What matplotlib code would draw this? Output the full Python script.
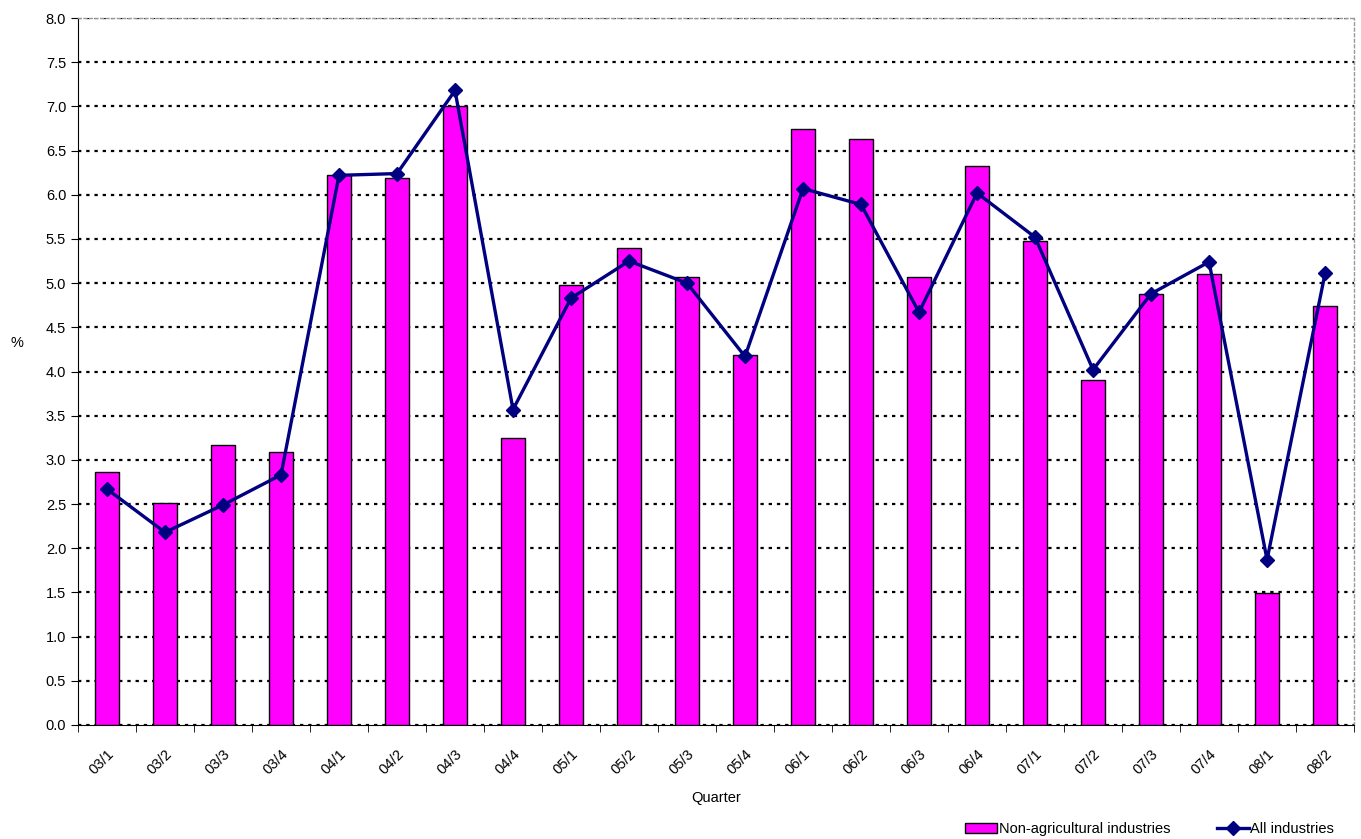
import matplotlib.pyplot as plt
import numpy as np

plt.rcParams['font.family'] = ['Liberation Sans', 'DejaVu Sans']

quarters = ['03/1', '03/2', '03/3', '03/4', '04/1', '04/2', '04/3', '04/4',
            '05/1', '05/2', '05/3', '05/4', '06/1', '06/2', '06/3', '06/4',
            '07/1', '07/2', '07/3', '07/4', '08/1', '08/2']
non_agri = [2.86, 2.51, 3.17, 3.09, 6.22, 6.19, 7.00, 3.25,
            4.98, 5.40, 5.07, 4.19, 6.74, 6.63, 5.07, 6.32,
            5.48, 3.90, 4.88, 5.10, 1.49, 4.74]
all_ind = [2.67, 2.18, 2.49, 2.83, 6.22, 6.24, 7.18, 3.57,
           4.83, 5.25, 5.00, 4.17, 6.07, 5.89, 4.67, 6.02,
           5.52, 4.02, 4.88, 5.24, 1.87, 5.11]

fs = 10.5
fig = plt.figure(figsize=(13.61, 8.39), dpi=100)
ax = fig.add_axes([0.0573, 0.1359, 0.9376, 0.8426])

x = np.arange(len(quarters))
bars = ax.bar(x, non_agri, width=0.42, color='#FF00FF', edgecolor='black',
              linewidth=1, label='Non-agricultural industries', zorder=3)
line, = ax.plot(x, all_ind, color='#000080', linewidth=2.4, marker='D',
                markersize=7, label='All industries', zorder=4)

ax.set_xlim(-0.5, len(quarters) - 0.5)
ax.set_ylim(0, 8)
ax.set_yticks(np.arange(0, 8.01, 0.5))
ax.set_yticklabels(['%.1f' % v for v in np.arange(0, 8.01, 0.5)], fontsize=fs)
ax.yaxis.grid(True, linestyle=(0, (1.5, 2.2)), color='black', linewidth=1.6, zorder=0)

ax.set_xticks(x)
ax.set_xticklabels(quarters, rotation=45, fontsize=fs, ha='right',
                   rotation_mode='anchor')
ax.tick_params(axis='x', length=0, pad=16)
ax.set_xticks(np.arange(-0.5, len(quarters), 1), minor=True)
ax.tick_params(axis='x', which='minor', length=5, direction='out')
ax.tick_params(axis='y', length=5, direction='out')

for s in ['top', 'right']:
    ax.spines[s].set_color('#999999')
    ax.spines[s].set_linestyle((0, (2, 2)))
    ax.spines[s].set_linewidth(1)

ax.set_xlabel('Quarter', fontsize=fs, labelpad=10)
ax.set_ylabel('%', fontsize=fs, rotation=0)
ax.yaxis.set_label_coords(-0.048, 0.53)

fig.legend(handles=[bars, line], loc='lower right', bbox_to_anchor=(0.99, -0.012),
           ncol=2, frameon=False, fontsize=fs, handlelength=2.2,
           handletextpad=0.1, columnspacing=3.2)

fig.savefig('out.png', dpi=100)
